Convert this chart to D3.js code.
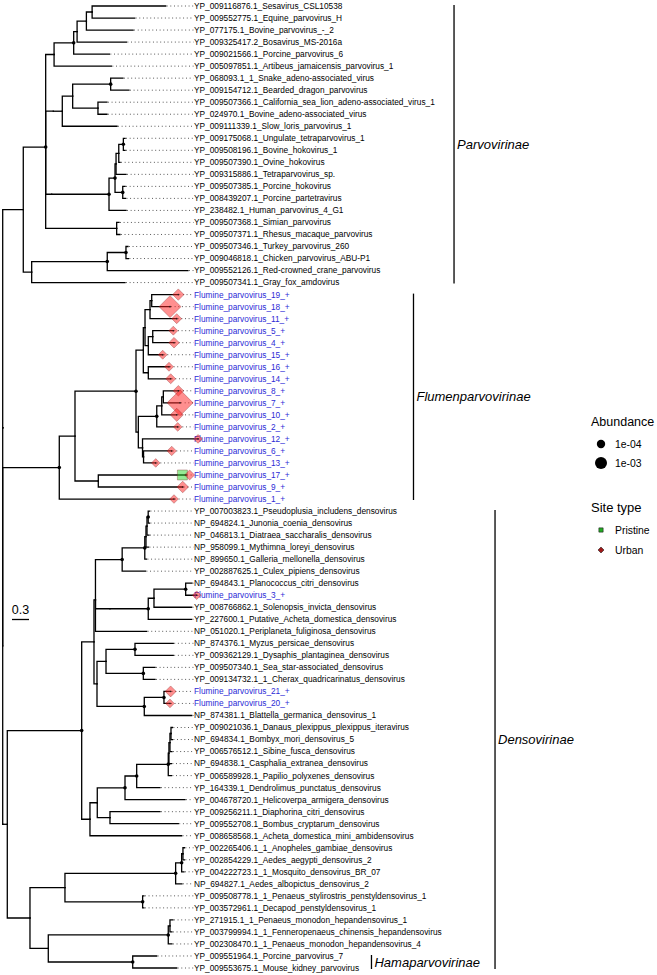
<!DOCTYPE html>
<html><head><meta charset="utf-8">
<script src="https://cdn.jsdelivr.net/npm/d3@7"></script>
<style>
body{margin:0;background:#fff}
svg{display:block;font-family:"Liberation Sans",Arial,Helvetica,sans-serif}
</style>
</head><body><svg id="c" width="657" height="975"></svg>
<script>
// ---------------- DATA ----------------
const tipLabels = [
"YP_009116876.1_Sesavirus_CSL10538","YP_009552775.1_Equine_parvovirus_H","YP_077175.1_Bovine_parvovirus_-_2",
"YP_009325417.2_Bosavirus_MS-2016a","YP_009021566.1_Porcine_parvovirus_6","YP_005097851.1_Artibeus_jamaicensis_parvovirus_1",
"YP_068093.1_1_Snake_adeno-associated_virus","YP_009154712.1_Bearded_dragon_parvovirus",
"YP_009507366.1_California_sea_lion_adeno-associated_virus_1","YP_024970.1_Bovine_adeno-associated_virus",
"YP_009111339.1_Slow_loris_parvovirus_1","YP_009175068.1_Ungulate_tetraparvovirus_1","YP_009508196.1_Bovine_hokovirus_1",
"YP_009507390.1_Ovine_hokovirus","YP_009315886.1_Tetraparvovirus_sp.","YP_009507385.1_Porcine_hokovirus",
"YP_008439207.1_Porcine_partetravirus","YP_238482.1_Human_parvovirus_4_G1","YP_009507368.1_Simian_parvovirus",
"YP_009507371.1_Rhesus_macaque_parvovirus","YP_009507346.1_Turkey_parvovirus_260","YP_009046818.1_Chicken_parvovirus_ABU-P1",
"YP_009552126.1_Red-crowned_crane_parvovirus","YP_009507341.1_Gray_fox_amdovirus",
"Flumine_parvovirus_19_+","Flumine_parvovirus_18_+","Flumine_parvovirus_11_+","Flumine_parvovirus_5_+",
"Flumine_parvovirus_4_+","Flumine_parvovirus_15_+","Flumine_parvovirus_16_+","Flumine_parvovirus_14_+",
"Flumine_parvovirus_8_+","Flumine_parvovirus_7_+","Flumine_parvovirus_10_+","Flumine_parvovirus_2_+",
"Flumine_parvovirus_12_+","Flumine_parvovirus_6_+","Flumine_parvovirus_13_+","Flumine_parvovirus_17_+",
"Flumine_parvovirus_9_+","Flumine_parvovirus_1_+",
"YP_007003823.1_Pseudoplusia_includens_densovirus","NP_694824.1_Junonia_coenia_densovirus",
"NP_046813.1_Diatraea_saccharalis_densovirus","NP_958099.1_Mythimna_loreyi_densovirus",
"NP_899650.1_Galleria_mellonella_densovirus","YP_002887625.1_Culex_pipiens_densovirus",
"NP_694843.1_Planococcus_citri_densovirus","Flumine_parvovirus_3_+","YP_008766862.1_Solenopsis_invicta_densovirus",
"YP_227600.1_Putative_Acheta_domestica_densovirus","NP_051020.1_Periplaneta_fuliginosa_densovirus",
"NP_874376.1_Myzus_persicae_densovirus","YP_009362129.1_Dysaphis_plantaginea_densovirus",
"YP_009507340.1_Sea_star-associated_densovirus","YP_009134732.1_1_Cherax_quadricarinatus_densovirus",
"Flumine_parvovirus_21_+","Flumine_parvovirus_20_+","NP_874381.1_Blattella_germanica_densovirus_1",
"YP_009021036.1_Danaus_plexippus_plexippus_iteravirus","NP_694834.1_Bombyx_mori_densovirus_5",
"YP_006576512.1_Sibine_fusca_densovirus","NP_694838.1_Casphalia_extranea_densovirus",
"YP_006589928.1_Papilio_polyxenes_densovirus","YP_164339.1_Dendrolimus_punctatus_densovirus",
"YP_004678720.1_Helicoverpa_armigera_densovirus","YP_009256211.1_Diaphorina_citri_densovirus",
"YP_009552708.1_Bombus_cryptarum_densovirus","YP_008658568.1_Acheta_domestica_mini_ambidensovirus",
"YP_002265406.1_1_Anopheles_gambiae_densovirus","YP_002854229.1_Aedes_aegypti_densovirus_2",
"YP_004222723.1_1_Mosquito_densovirus_BR_07","NP_694827.1_Aedes_albopictus_densovirus_2",
"YP_009508778.1_1_Penaeus_stylirostris_penstyldensovirus_1","YP_003572961.1_Decapod_penstyldensovirus_1",
"YP_271915.1_1_Penaeus_monodon_hepandensovirus_1","YP_003799994.1_1_Fenneropenaeus_chinensis_hepandensovirus",
"YP_002308470.1_1_Penaeus_monodon_hepandensovirus_4","YP_009551964.1_Porcine_parvovirus_7",
"YP_009553675.1_Mouse_kidney_parvovirus"
];

// Tree topology with branch lengths (substitutions/site); leaves are 1-based indices into tipLabels,
// internal nodes labelled "*" carry a support dot.
const parvoNewick =
"((((((((((1:1.298,2:0.751):0.101,3:0.824):0.164,4:0.870):0.060,5:0.630)*:0.346,6:1.011):0.148," +
"((((7:0.217,8:0.323)*:0.670,(9:0.159,10:0.159):0.446):0.183,11:0.965):0.159):0.134," +
"((((((12:0.030,13:0.030)*:0.081,14:0.023):0.048,15:0.176):0.018,(16:0.041,17:0.049)*:0.136)*:0.106,18:0.300)*:1.011):0.106," +
"(19:0.041,20:0.058):1.252)*:0.395,(((21:0.035,22:0.044)*:0.330,23:1.423)*:1.333,24:1.646):0.148):0.363";
const flumenNewick =
"((((((((25:0.469,26:0.323):0.030,27:0.471):0.088,((28:0.363,29:0.376):0.078,30:0.254):0.058):0.030," +
"(31:0.365,32:0.395):0.088):0.129,((((33:0.265,34:0.295):0.028,35:0.265):0.088,36:0.370)*:0.325," +
"(37:0.979,(38:0.497,39:0.215):0.018):0.074):0.041)*:1.076,(40:1.547,41:1.489):0.411):0.277,42:2.023)*:0.998";
const densoNewick =
"((((((((((((43:0.023,44:0.023)*:0.021,45:0.035):0.018,46:0.044):0.021,47:0.030)*:0.399,48:0.411)*:0.471," +
"((((49:0.111,50:0.194)*:0.559,51:0.665):0.101,52:0.765)*:0.675):0.256,53:0.903):0.026," +
"(((54:0.675,55:0.675)*:0.511,(56:0.206,57:0.206)*:0.658):0.159,((58:0.118,59:0.106)*:0.347,60:0.836)*:0.834):0.053):0.217," +
"((((((((61:0.026,62:0.026):0.018,63:0.035):0.018,64:0.044):0.012,65:0.056)*:0.557,66:0.411)*:0.206,67:1.058)*:0.489," +
"(68:0.882,69:1.205):0.224):0.129,70:1.617):0.146)*:1.312," +
"(((((71:0.026,72:0.026):0.023,73:0.041)*:0.106,74:0.111)*:1.952,(75:0.023,76:0.023)*:1.370):0.617," +
"(((77:0.053,78:0.035):0.030,79:0.065)*:2.116,(80:0.423,81:0.776)*:1.489):0.323):0.400):0.081";
const newick = "(" + parvoNewick + "," + flumenNewick + "," + densoNewick + ");";

// Tip symbols: leaf index, site type, relative abundance
const markerTip =       [25,    26,    27,     28,   29,     30,   31,   32,     33,     34,    35,   36,   37,   38,     39,   40,     40,     41,     42,   50,   58,     59];
const markerSite =      ["Urban","Urban","Urban","Urban","Urban","Urban","Urban","Urban","Urban","Urban","Urban","Urban","Urban","Urban","Urban","Pristine","Urban","Urban","Urban","Urban","Urban","Urban"];
const markerAbundance = [2.0e-4,4.2e-3,5.6e-5,7e-6,1.1e-4,7e-6,7e-6,5.6e-5,1.1e-4,7.1e-3,5e-4,1e-6,2e-6,2.1e-5,1e-6,7.5e-4,5.6e-5,2.3e-4,1e-6,1e-6,1.5e-4,1e-6];

const abundanceBreaks = [1e-4, 1e-3];
const abundanceBreakLabels = ["1e-04", "1e-03"];
const siteTypes = ["Pristine", "Urban"];

const cladeNames = ["Parvovirinae", "Flumenparvovirinae", "Densovirinae", "Hamaparvovirinae"];
const cladeFirstTip = [1, 25, 43, 80];
const cladeLastTip = [24, 42, 81, 81];
const scaleBarValue = 0.3;

// ---------------- LAYOUT / STYLE ----------------
const W = 657, H = 975;
const cladeBarDepth = [7.96, 7.245, 8.683, 6.504];   // offsets of clade bars in tree units
const siteFill = {Pristine: "#2bd62b", Urban: "#ff2020"};
const siteLegendFill = {Pristine: "#22aa22", Urban: "#a01818"};
const blue = "#2b2bd6";

function parseNewick(s) {
  let i = 0;
  function node() {
    const n = {};
    if (s[i] === "(") {
      n.children = [];
      i++;
      while (true) {
        n.children.push(node());
        if (s[i] === ",") { i++; continue; }
        i++; break;
      }
    }
    let name = "";
    while (i < s.length && !":,();".includes(s[i])) name += s[i++];
    n.name = name;
    n.length = 0;
    if (s[i] === ":") {
      i++;
      let num = "";
      while (i < s.length && !",();".includes(s[i])) num += s[i++];
      n.length = +num;
    }
    return n;
  }
  return node();
}

const root = d3.hierarchy(parseNewick(newick));
root.eachBefore(d => { d.dist = d.parent ? d.parent.dist + d.data.length : 0; });

const x = d3.scaleLinear().domain([0, 1]).range([2.7, 59.4]);
const y = d3.scaleLinear().domain([1, tipLabels.length]).range([6, 968]);
root.eachAfter(d => {
  if (d.children) d.y = d3.mean(d.children, c => c.y);
  else d.y = y(+d.data.name);
  d.x = x(d.dist);
});

const svg = d3.select("#c");
svg.append("rect").attr("width", W).attr("height", H).attr("fill", "#fff");

// branches
const g = svg.append("g");
g.selectAll("path.br").data(root.descendants().filter(d => d.parent)).join("path")
  .attr("class", "br")
  .attr("d", d => `M${d.parent.x},${d.parent.y}V${d.y}H${d.x}`)
  .attr("fill", "none").attr("stroke", "#000").attr("stroke-width", 1.3)
  .attr("stroke-linejoin", "miter").attr("stroke-linecap", "square");

const leaves = root.leaves();
const labelX = 194;

// dotted leaders
g.selectAll("line.lead").data(leaves.filter(d => d.x < labelX - 2)).join("line")
  .attr("class", "lead")
  .attr("x1", d => d.x + 1).attr("x2", labelX - 0.5)
  .attr("y1", d => d.y).attr("y2", d => d.y)
  .attr("stroke", "#333").attr("stroke-width", 0.9)
  .attr("stroke-dasharray", "0.9 2.75");

// labels
g.selectAll("text.tip").data(leaves).join("text")
  .attr("class", "tip")
  .attr("x", labelX).attr("y", d => d.y).attr("dy", "0.35em")
  .attr("font-size", 8.3)
  .attr("fill", d => tipLabels[+d.data.name - 1].startsWith("Flumine") ? blue : "#000")
  .text(d => tipLabels[+d.data.name - 1]);

// support dots
g.selectAll("circle.sup").data(root.descendants().filter(d => d.children && d.data.name === "*")).join("circle")
  .attr("class", "sup")
  .attr("cx", d => d.x).attr("cy", d => d.y).attr("r", 1.8).attr("fill", "#000");

// tip symbols
const leafByIdx = new Map(leaves.map(d => [+d.data.name, d]));
const rScale = d3.scaleSqrt().domain([0, 1e-3]).range([3.37, 6.0]);
const markers = markerTip.map((t, i) => ({tip: t, site: markerSite[i], ab: markerAbundance[i]}));
const countByTip = d3.rollup(markers, v => v.length, m => m.tip);
function symbolPath(site, r) {
  if (site === "Urban") {
    const h = r * 1.2533;
    return `M0,${-h}L${h},0L0,${h}L${-h},0Z`;
  }
  const h = r * 0.8862;
  return `M${-h},${-h}H${h}V${h}H${-h}Z`;
}
const mg = svg.append("g");
mg.selectAll("path.mk").data(markers).join("path")
  .attr("class", "mk")
  .attr("transform", m => {
    const leaf = leafByIdx.get(m.tip);
    const dodge = countByTip.get(m.tip) > 1 ? (m.site === "Pristine" ? -3.6 : 3.6) : 0;
    return `translate(${leaf.x + dodge},${leaf.y})`;
  })
  .attr("d", m => symbolPath(m.site, rScale(m.ab)))
  .attr("fill", m => siteFill[m.site]).attr("fill-opacity", 0.5)
  .attr("stroke", "#7a2020").attr("stroke-opacity", 0.55).attr("stroke-width", 0.6);
mg.selectAll("circle.tipdot").data(Array.from(new Set(markerTip))).join("circle")
  .attr("class", "tipdot")
  .attr("cx", t => leafByIdx.get(t).x).attr("cy", t => leafByIdx.get(t).y)
  .attr("r", 0.8).attr("fill", "#222");

// clade labels
const cg = svg.append("g");
cladeNames.forEach((name, i) => {
  const y0 = y(cladeFirstTip[i]) - 1, y1 = y(cladeLastTip[i]) + 1;
  const bx = x(cladeBarDepth[i]);
  cg.append("line").attr("x1", bx).attr("x2", bx).attr("y1", y0).attr("y2", y1)
    .attr("stroke", "#000").attr("stroke-width", 1.3);
  cg.append("text").attr("x", bx + 3).attr("y", (y0 + y1) / 2).attr("dy", "0.35em")
    .attr("font-size", 13).attr("font-style", "italic").text(name);
});

// scale bar
const sbx = 12, sby = 619.5;
svg.append("line").attr("x1", sbx).attr("x2", sbx + x(scaleBarValue) - x(0))
  .attr("y1", sby).attr("y2", sby).attr("stroke", "#000").attr("stroke-width", 1.3);
svg.append("text").attr("x", sbx + (x(scaleBarValue) - x(0)) / 2).attr("y", sby - 5.5)
  .attr("text-anchor", "middle").attr("font-size", 12.5).text(String(scaleBarValue));

// legend
const lg = svg.append("g");
const lx = 591, keyX = 601, txtX = 615;
lg.append("text").attr("x", lx).attr("y", 426).attr("font-size", 12.5).text("Abundance");
abundanceBreaks.forEach((b, i) => {
  const cy = 444 + i * 19;
  lg.append("circle").attr("cx", keyX).attr("cy", cy).attr("r", rScale(b)).attr("fill", "#000");
  lg.append("text").attr("x", txtX).attr("y", cy).attr("dy", "0.35em").attr("font-size", 10.4).text(abundanceBreakLabels[i]);
});
lg.append("text").attr("x", lx).attr("y", 512).attr("font-size", 13).text("Site type");
siteTypes.forEach((s, i) => {
  const cy = 530 + i * 20;
  lg.append("path").attr("transform", `translate(${keyX},${cy})`)
    .attr("d", symbolPath(s, 2.4)).attr("fill", siteLegendFill[s]).attr("stroke", "#222").attr("stroke-width", 0.6);
  lg.append("text").attr("x", txtX).attr("y", cy).attr("dy", "0.35em").attr("font-size", 10.4).text(s);
});
</script>
</body></html>
